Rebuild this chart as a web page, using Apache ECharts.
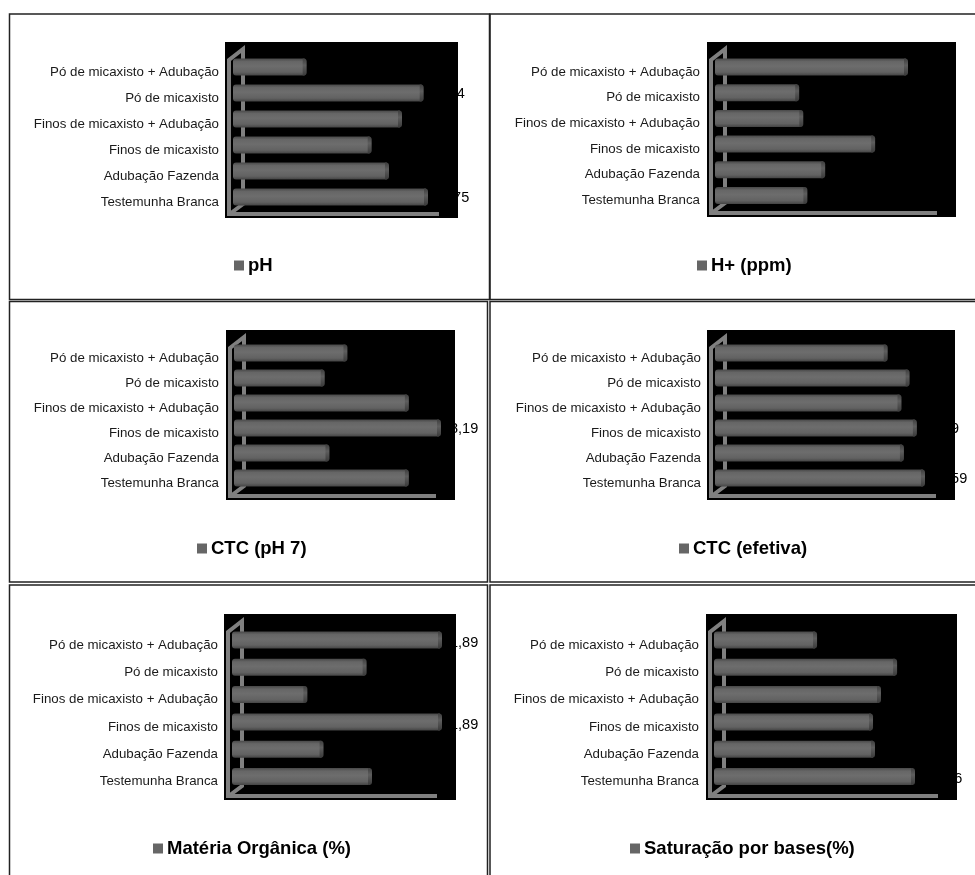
<!DOCTYPE html>
<html>
<head>
<meta charset="utf-8">
<style>html,body{margin:0;padding:0;background:#fff}#chart{width:975px;height:875px}</style>
<script src="https://cdn.jsdelivr.net/npm/echarts@6/dist/echarts.min.js"></script>
</head>
<body>
<div id="chart"></div>
<script>
// Treatments, listed from the top row to the bottom row of every panel
const treatments = ['Pó de micaxisto + Adubação', 'Pó de micaxisto', 'Finos de micaxisto + Adubação',
  'Finos de micaxisto', 'Adubação Fazenda', 'Testemunha Branca'];

// Soil analysis results per treatment
const phValues = [4.47, 4.74, 4.69, 4.62, 4.66, 4.75];
const hydrogenValues = [10.82, 9.23, 9.29, 10.34, 9.61, 9.35];
const ctcPh7Values = [7.20, 6.96, 7.85, 8.19, 7.01, 7.85];
const ctcEffectiveValues = [5.13, 5.40, 5.30, 5.49, 5.33, 5.59];
const organicMatterValues = [1.89, 1.75, 1.64, 1.89, 1.67, 1.76];
const baseSaturationValues = [56.85, 62.17, 61.10, 60.57, 60.70, 63.36];

// Value at which each panel's truncated axis starts
const axisFloors = [4.30, 8.00, 6.00, 3.00, 1.50, 50.00];

// Panel geometry: black plot box, first bar centre, row step, axis start, longest bar, label gap, legend anchor
const panels = [
  { name: 'pH', values: phValues, floor: axisFloors[0], box: [225, 42, 458, 218], first: 67, step: 26, left: 233, len: 195, gap: 13, labelRight: 219, labelDy: 1, legend: [234, 256] },
  { name: 'H+ (ppm)', values: hydrogenValues, floor: axisFloors[1], box: [707, 42, 956, 217], first: 67, step: 25.7, left: 715, len: 193, gap: 12, labelRight: 700, labelDy: 1, legend: [697, 256] },
  { name: 'CTC (pH 7)', values: ctcPh7Values, floor: axisFloors[2], box: [226, 330, 455, 500], first: 353, step: 25, left: 234, len: 207, gap: 9, labelRight: 219, labelDy: 1, legend: [197, 539] },
  { name: 'CTC (efetiva)', values: ctcEffectiveValues, floor: axisFloors[3], box: [707, 330, 955, 500], first: 353, step: 25, left: 715, len: 210, gap: 14, labelRight: 701, labelDy: 1, legend: [679, 539] },
  { name: 'Matéria Orgânica (%)', values: organicMatterValues, floor: axisFloors[4], box: [224, 614, 456, 800], first: 640, step: 27.3, left: 232, len: 210, gap: 8, labelRight: 218, labelDy: 3, legend: [153, 839] },
  { name: 'Saturação por bases(%)', values: baseSaturationValues, floor: axisFloors[5], box: [706, 614, 957, 800], first: 640, step: 27.3, left: 714, len: 201, gap: 11, labelRight: 699, labelDy: 2, legend: [630, 839] }
];

// Table cell outlines around the panels: x0, y0, x1, y1
const cells = [
  [9.5, 14, 489.5, 299.5], [490, 14, 980, 299.5],
  [9.5, 301.5, 487.5, 582], [490, 301.5, 980, 582],
  [9.5, 585, 487.5, 890], [490, 585, 980, 890]
];

const FONT = '"Liberation Sans", Arial, sans-serif';
const WALL = '#808080';

const cylinder = () => new echarts.graphic.LinearGradient(0, 0, 0, 1, [
  { offset: 0, color: '#484848' }, { offset: 0.18, color: '#666666' }, { offset: 0.45, color: '#6d6d6d' },
  { offset: 0.8, color: '#626262' }, { offset: 1, color: '#444444' }
]);
const capShade = () => new echarts.graphic.LinearGradient(0, 0, 0, 1, [
  { offset: 0, color: '#3e3e3e' }, { offset: 0.4, color: '#5e5e5e' }, { offset: 1, color: '#3a3a3a' }
]);

// Bars are drawn as shaded cylinders, positioned through the panel's axes
function barRenderer(panel) {
  return function (params, api) {
    const value = api.value(0);
    const start = api.coord([panel.floor, api.value(1)]);
    const end = api.coord([value, api.value(1)]);
    const h = 17;
    return {
      type: 'group',
      children: [
        { type: 'rect', shape: { x: start[0], y: start[1] - h / 2, width: end[0] - start[0] - 2, height: h, r: [3, 0, 0, 3] }, style: { fill: cylinder() } },
        { type: 'rect', shape: { x: end[0] - 4, y: start[1] - h / 2, width: 4, height: h, r: [0, 3, 3, 0] }, style: { fill: capShade() } },
        { type: 'text', x: end[0] + panel.gap, y: start[1] + panel.labelDy,
          style: { text: value.toFixed(2).replace('.', ','), fill: '#000', font: '14.5px ' + FONT, textVerticalAlign: 'middle', textAlign: 'left' } }
      ]
    };
  };
}

const graphics = [];
cells.forEach(c => graphics.push({ type: 'rect', silent: true, z: 0,
  shape: { x: c[0], y: c[1], width: c[2] - c[0], height: c[3] - c[1] },
  style: { fill: null, stroke: '#222', lineWidth: 1.5 } }));
panels.forEach(p => {
  const [x0, y0, x1, y1] = p.box;
  graphics.push({ type: 'rect', silent: true, z: 0, shape: { x: x0, y: y0, width: x1 - x0, height: y1 - y0 }, style: { fill: '#000' } });
  // Grey wall and floor of the pseudo-3D plot frame
  graphics.push({ type: 'polyline', silent: true, z: 1,
    shape: { points: [[x1 - 19, y1 - 4], [x0 + 4, y1 - 4], [x0 + 4, y0 + 18], [x0 + 18, y0 + 7], [x0 + 18, y1 - 14], [x0 + 6, y1 - 5]] },
    style: { fill: null, stroke: WALL, lineWidth: 4 } });
});

const option = {
  animation: false,
  backgroundColor: '#fff',
  graphic: { elements: graphics },
  grid: panels.map(p => ({ left: p.left, width: p.len, top: p.first - p.step / 2, height: p.step * 6, show: false })),
  xAxis: panels.map((p, i) => ({ type: 'value', gridIndex: i, show: false, min: p.floor, max: Math.max(...p.values), splitLine: { show: false } })),
  yAxis: panels.map((p, i) => ({
    type: 'category', gridIndex: i, inverse: true, data: treatments,
    axisLine: { show: false }, axisTick: { show: false }, splitLine: { show: false },
    axisLabel: { margin: p.left - p.labelRight, color: '#1a1a1a', fontFamily: FONT, fontSize: 13.3, verticalAlign: 'top', lineHeight: 10, interval: 0 }
  })),
  legend: panels.map(p => ({
    data: [p.name], left: p.legend[0], top: p.legend[1], icon: 'rect', itemWidth: 10, itemHeight: 10, itemGap: 0,
    padding: 0, itemStyle: { color: '#666' }, selectedMode: false,
    textStyle: { color: '#000', fontFamily: FONT, fontSize: 18.5, fontWeight: 'bold', padding: [0, 0, 0, -1] }
  })),
  series: panels.map((p, i) => ({
    type: 'custom', name: p.name, xAxisIndex: i, yAxisIndex: i, z: 3, silent: true,
    itemStyle: { color: '#666' },
    data: p.values.map((v, k) => [v, k]),
    encode: { x: 0, y: 1 },
    renderItem: barRenderer(p)
  }))
};

echarts.init(document.getElementById('chart'), null, { renderer: 'canvas' }).setOption(option);
</script>
</body>
</html>
